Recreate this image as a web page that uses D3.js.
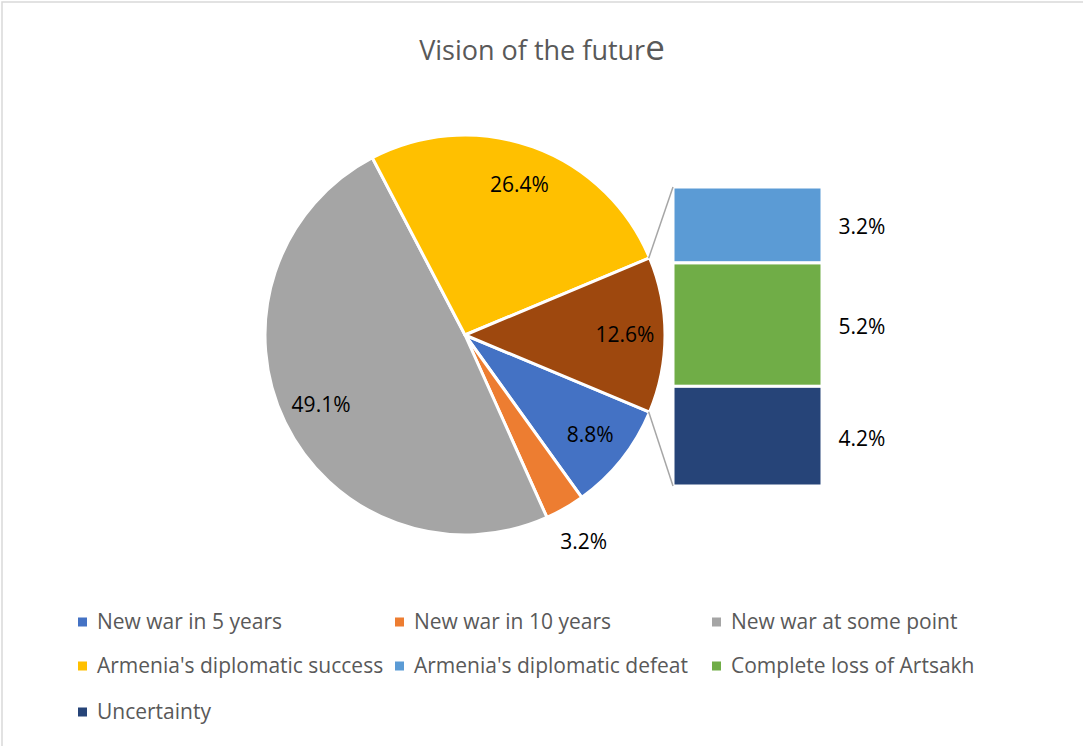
<!DOCTYPE html>
<html>
<head>
<meta charset="utf-8">
<script src="https://cdn.jsdelivr.net/npm/d3@7"></script>
<style>
  html, body { margin: 0; padding: 0; background: #fff; }
  svg { display: block; font-family: "Open Sans", "DejaVu Sans", sans-serif; }
</style>
</head>
<body>
<svg id="chart" width="1083" height="746"></svg>
<script>
// Main pie: the last entry ("Other") is split out into the stacked bar.
const pieCategories = ["New war in 5 years", "New war in 10 years", "New war at some point", "Armenia's diplomatic success", "Other"];
const pieValues = [8.8, 3.2, 49.1, 26.4, 12.6];
const pieColors = ["#4472C4", "#ED7D31", "#A5A5A5", "#FFC000", "#9E480E"];

// Breakdown of "Other", top to bottom.
const barCategories = ["Armenia's diplomatic defeat", "Complete loss of Artsakh", "Uncertainty"];
const barValues = [3.2, 5.2, 4.2];
const barColors = ["#5B9BD5", "#70AD47", "#264478"];

const legendLabels = ["New war in 5 years", "New war in 10 years", "New war at some point",
  "Armenia's diplomatic success", "Armenia's diplomatic defeat", "Complete loss of Artsakh", "Uncertainty"];
const legendColors = ["#4472C4", "#ED7D31", "#A5A5A5", "#FFC000", "#5B9BD5", "#70AD47", "#264478"];

const svg = d3.select("#chart");
const W = 1083, H = 746;

// Chart frame
svg.append("rect").attr("x", 2).attr("y", 2).attr("width", W + 10).attr("height", H + 10)
  .attr("fill", "#fff").attr("stroke", "#d9d9d9").attr("stroke-width", 1.5);

// Title
const title = svg.append("text").attr("x", 542).attr("y", 60).attr("text-anchor", "middle")
  .attr("fill", "#595959").attr("font-size", 27);
title.append("tspan").text("Vision of the futur");
title.append("tspan").attr("font-size", 35).text("e");

// Pie
const cx = 465, cy = 335, R = 200;
const total = d3.sum(pieValues);
const otherShare = pieValues[pieValues.length - 1] / total * 2 * Math.PI;
const start = Math.PI / 2 + otherShare / 2;

const pie = d3.pie().sort(null).value(d => d).startAngle(start).endAngle(start + 2 * Math.PI);
const arcs = pie(pieValues);
const arc = d3.arc().innerRadius(0).outerRadius(R);
const labelArc = d3.arc().innerRadius(160).outerRadius(160);
const outerLabelArc = d3.arc().innerRadius(238).outerRadius(238);

const g = svg.append("g").attr("transform", `translate(${cx},${cy})`);
g.selectAll("path.slice").data(arcs).enter().append("path")
  .attr("class", "slice")
  .attr("d", arc)
  .attr("fill", (d, i) => pieColors[i])
  .attr("stroke", "#fff").attr("stroke-width", 3).attr("stroke-linejoin", "round");

g.selectAll("text.lbl").data(arcs).enter().append("text")
  .attr("class", "lbl")
  .attr("transform", d => {
    const small = (d.endAngle - d.startAngle) < 0.3;
    const c = (small ? outerLabelArc : labelArc).centroid(d);
    return `translate(${c[0]},${c[1]})`;
  })
  .attr("text-anchor", "middle").attr("dy", "0.35em")
  .attr("font-size", 21).attr("fill", "#000")
  .text(d => d.data.toFixed(1) + "%");

// Stacked bar for "Other"
const barX = 673, barW = 149, barTop = 187, barBottom = 486;
const y = d3.scaleLinear().domain([0, d3.sum(barValues)]).range([barTop, barBottom]);
const cum = d3.cumsum([0].concat(barValues));
const segs = barValues.map((v, i) => ({ v, y0: cum[i], y1: cum[i + 1], color: barColors[i] }));

svg.selectAll("rect.seg").data(segs).enter().append("rect")
  .attr("class", "seg")
  .attr("x", barX).attr("width", barW)
  .attr("y", d => y(d.y0)).attr("height", d => y(d.y1) - y(d.y0))
  .attr("fill", d => d.color)
  .attr("stroke", "#fff").attr("stroke-width", 3);

svg.selectAll("text.seglbl").data(segs).enter().append("text")
  .attr("class", "seglbl")
  .attr("x", barX + barW + 40)
  .attr("y", d => y((d.y0 + d.y1) / 2) + 2)
  .attr("dy", "0.35em").attr("text-anchor", "middle")
  .attr("font-size", 21).attr("fill", "#000")
  .text(d => d.v.toFixed(1) + "%");

// Connector lines from the "Other" slice to the bar
const otherArc = arcs[arcs.length - 1];
const edgePt = a => [cx + (R - 1) * Math.sin(a), cy - (R - 1) * Math.cos(a)];
const p1 = edgePt(otherArc.startAngle), p2 = edgePt(otherArc.endAngle);
const lines = [[p1, [barX, y(0)]], [p2, [barX, y(d3.sum(barValues))]]];
svg.selectAll("line.conn").data(lines).enter().append("line")
  .attr("class", "conn")
  .attr("x1", d => d[0][0]).attr("y1", d => d[0][1])
  .attr("x2", d => d[1][0]).attr("y2", d => d[1][1])
  .attr("stroke", "#a6a6a6").attr("stroke-width", 1.5);

// Legend
const colX = [78, 395, 712], rowY = [622, 666, 712];
const leg = svg.selectAll("g.leg").data(legendLabels).enter().append("g")
  .attr("class", "leg")
  .attr("transform", (d, i) => `translate(${colX[i % 3]},${rowY[Math.floor(i / 3)]})`);
leg.append("rect").attr("x", 0).attr("y", -4.5).attr("width", 9).attr("height", 9)
  .attr("fill", (d, i) => legendColors[i]);
leg.append("text").attr("x", 19).attr("dy", "0.35em")
  .attr("font-size", 21).attr("fill", "#595959")
  .text(d => d);
</script>
</body>
</html>
